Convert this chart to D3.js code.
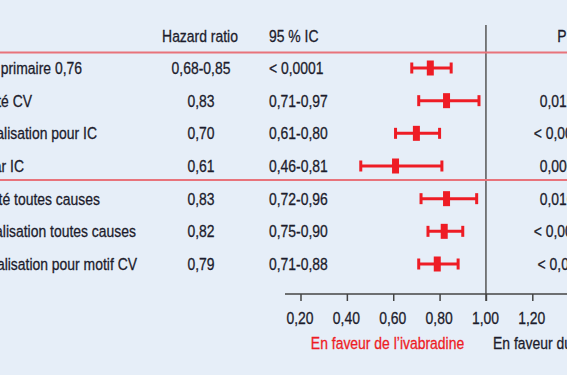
<!DOCTYPE html>
<html lang="fr">
<head>
	<meta charset="UTF-8">
	<title>Forest plot</title>
	<script src="https://cdn.jsdelivr.net/npm/d3@7/dist/d3.min.js"></script>
	<style>
		body {
			margin: 0;
			background: #e6eef8;
			overflow: hidden;
		}

		svg {
			display: block;
			background: #e6eef8;
			font-family: "Liberation Sans", Arial, sans-serif;
			font-size: 17px;
			fill: #1c1c2c;
		}

		svg text {
			stroke: currentColor;
			stroke-width: 0.3px;
			color: #1c1c2c;
		}

		.sep {
			stroke: #e8737b;
			stroke-width: 2px;
		}

		.ref {
			stroke: #555;
			stroke-width: 1.5px;
		}

		.ci, .cap {
			stroke: #ee1c25;
			stroke-width: 3px;
		}

		.hr {
			fill: #ee1c25;
		}
	</style>
</head>
<body>
<script>
	var width = 567,
		height = 375;

	// lignes du tableau
	var labels = ["Critère primaire 0,76", "Mortalité CV", "Hospitalisation pour IC", "Décès par IC",
		"Mortalité toutes causes", "Hospitalisation toutes causes", "Hospitalisation pour motif CV"];
	var hrText = ["0,68-0,85", "0,83", "0,70", "0,61", "0,83", "0,82", "0,79"];
	var icText = ["< 0,0001", "0,71-0,97", "0,61-0,80", "0,46-0,81", "0,72-0,96", "0,75-0,90", "0,71-0,88"];
	var pText = ["", "0,0166", "< 0,0001", "0,0006", "0,0109", "< 0,0001", "< 0,001"];
	var hr = [0.76, 0.83, 0.70, 0.61, 0.83, 0.82, 0.79];
	var lo = [0.68, 0.71, 0.61, 0.46, 0.72, 0.75, 0.71];
	var hi = [0.85, 0.97, 0.80, 0.81, 0.96, 0.90, 0.88];
	var ticks = [0.2, 0.4, 0.6, 0.8, 1.0, 1.2];
	// fin de texte visible des libellés (coupés à gauche)
	var labelEnd = [82, 32, 97, 24, 100, 136, 137];

	var narrow = 0.82; // police étroite : Arial horizontalement réduite

	var fmt = function (v) { return v.toFixed(2).replace(".", ","); };

	var x = d3.scaleLinear()
		.domain([0.2, 1.2])
		.range([300.5, 532.3]);

	var y = d3.scalePoint()
		.domain(d3.range(labels.length))
		.range([68, 264]);

	var svg = d3.select("body").append("svg")
		.attr("width", width)
		.attr("height", height);

	function txt(parent, tx, ty, anchor, s) {
		return parent.append("text")
			.attr("transform", "translate(" + tx + "," + ty + ") scale(" + narrow + ",1)")
			.attr("text-anchor", anchor)
			.text(s);
	}

	// en-têtes
	txt(svg, 200, 41.5, "middle", "Hazard ratio");
	txt(svg, 269, 41.5, "start", "95 % IC");
	txt(svg, 562, 41.5, "middle", "P");

	// ligne de référence à 1
	svg.append("line")
		.attr("class", "ref")
		.attr("x1", x(1)).attr("x2", x(1))
		.attr("y1", 25).attr("y2", 301);

	// séparateurs
	svg.selectAll(".sep")
		.data([52.5, 180])
		.enter().append("line")
		.attr("class", "sep")
		.attr("x1", 0).attr("x2", width)
		.attr("y1", function (d) { return d; })
		.attr("y2", function (d) { return d; });

	d3.range(labels.length).forEach(function (i) {
		var g = svg.append("g")
			.attr("class", "row")
			.attr("transform", "translate(0," + y(i) + ")");

		txt(g, labelEnd[i], 6, "end", labels[i]);
		txt(g, 201, 6, "middle", hrText[i]);
		txt(g, 269, 6, "start", icText[i]);
		if (pText[i]) txt(g, 561, 6, "middle", pText[i]);

		// intervalle de confiance
		g.append("line")
			.attr("class", "ci")
			.attr("x1", x(lo[i]))
			.attr("x2", x(hi[i]));

		g.selectAll(".cap")
			.data([lo[i], hi[i]])
			.enter().append("line")
			.attr("class", "cap")
			.attr("x1", function (d) { return x(d); })
			.attr("x2", function (d) { return x(d); })
			.attr("y1", -5.5).attr("y2", 5.5);

		g.append("rect")
			.attr("class", "hr")
			.attr("x", x(hr[i]) - 3.5)
			.attr("y", -7.5)
			.attr("width", 7)
			.attr("height", 15);
	});

	// axe
	var axisY = 294;
	svg.append("line")
		.attr("x1", 285).attr("x2", width)
		.attr("y1", axisY).attr("y2", axisY)
		.attr("stroke", "#444")
		.attr("stroke-width", 1.5);

	var axis = svg.append("g")
		.attr("transform", "translate(0," + axisY + ")")
		.call(d3.axisBottom(x).tickValues(ticks).tickFormat(fmt).tickSize(7).tickPadding(9));
	axis.attr("font-family", null).attr("font-size", null);
	axis.select(".domain").remove();
	axis.selectAll(".tick line").attr("stroke", "#444").attr("stroke-width", 1.5);
	axis.selectAll(".tick text")
		.attr("fill", "#1c1c2c")
		.attr("y", 0)
		.attr("dy", null)
		.attr("transform", "translate(-1,30) scale(" + narrow + ",1)");

	txt(svg, 387.5, 349, "middle", "En faveur de l’ivabradine")
		.style("fill", "#ee1c25")
		.style("color", "#ee1c25");
	txt(svg, 493, 349, "start", "En faveur du placebo");
</script>
</body>
</html>
